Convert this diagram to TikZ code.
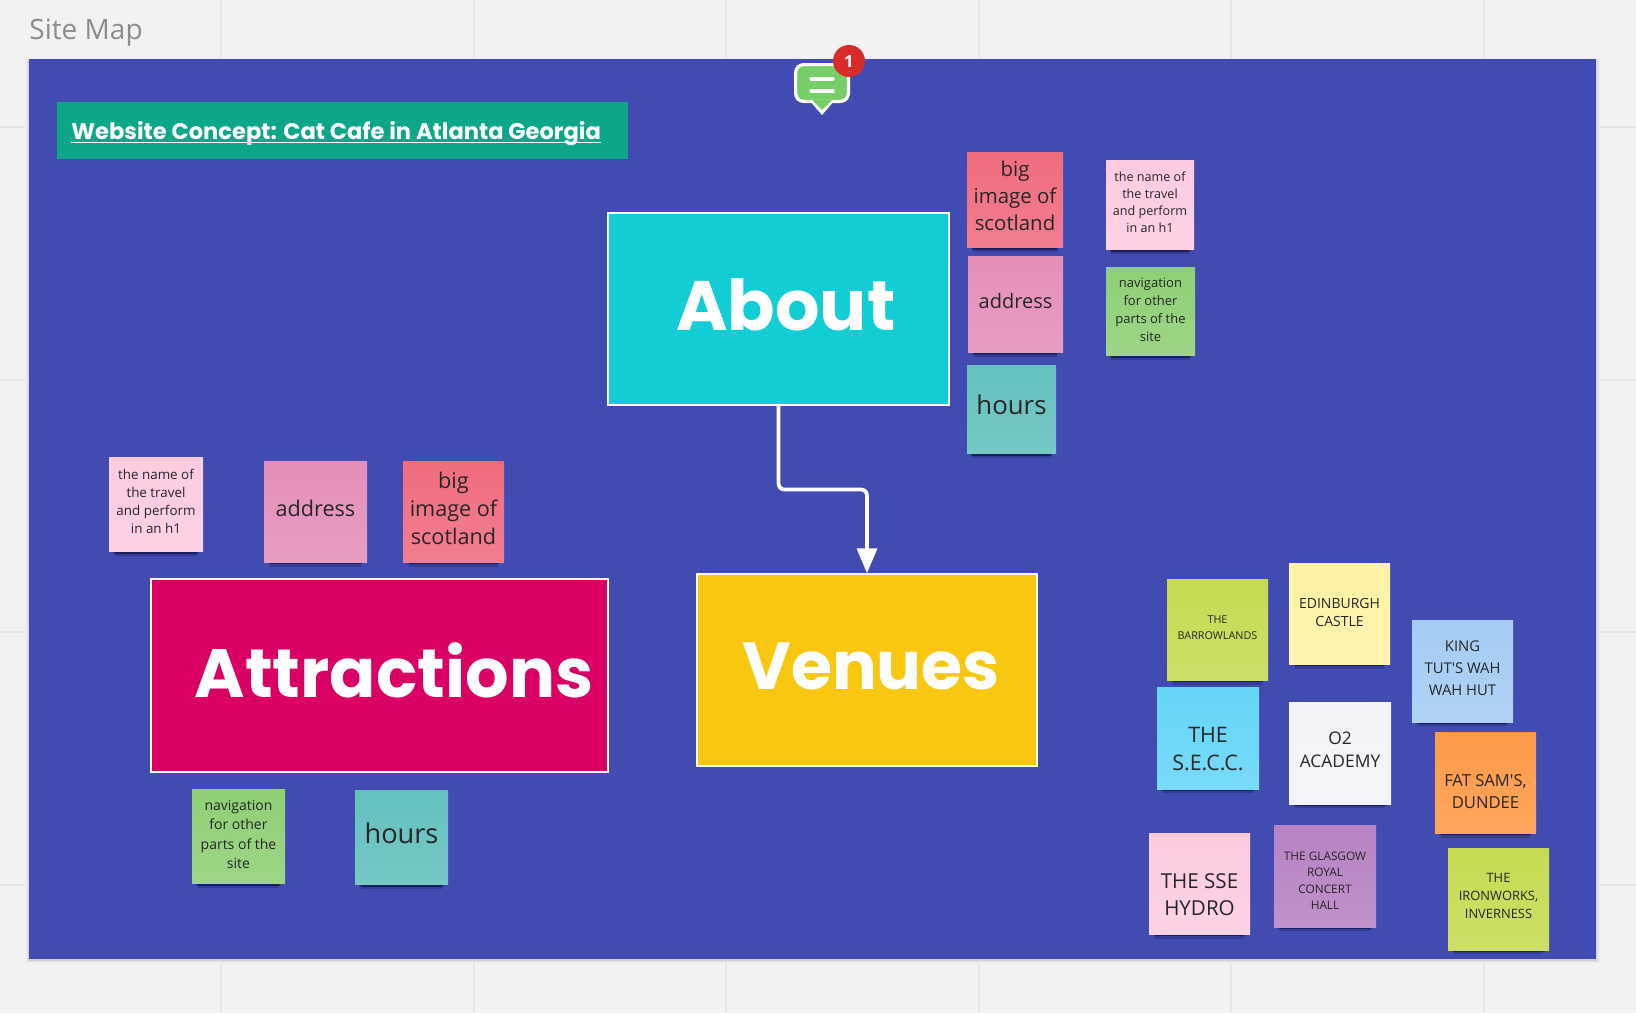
\documentclass[tikz,border=0pt]{standalone}
\usepackage{fontspec}
\usepackage{tikz}
\usetikzlibrary{arrows,shadows}
\setmainfont{Open Sans}
\newfontfamily\headfont{Poppins}
\definecolor{boardblue}{HTML}{414BB2}
\definecolor{pagegray}{HTML}{F2F2F2}
\definecolor{gridgray}{HTML}{E6E6E6}
\definecolor{titlegreen}{HTML}{0CA789}
\definecolor{aboutcyan}{HTML}{12CDD4}
\definecolor{attrred}{HTML}{DA0063}
\definecolor{venueyellow}{HTML}{FAC710}
\definecolor{notegreen}{HTML}{75CE68}
\definecolor{badgered}{HTML}{DB2A2A}
\definecolor{stickyred}{HTML}{F06C80}
\definecolor{stickymauve}{HTML}{E58FBA}
\definecolor{stickyteal}{HTML}{63C1BE}
\definecolor{stickypink}{HTML}{FDCBE0}
\definecolor{stickygreen}{HTML}{8FD076}
\definecolor{stickylime}{HTML}{C6DB52}
\definecolor{stickycream}{HTML}{FEF3A5}
\definecolor{stickysky}{HTML}{A5CCF3}
\definecolor{stickycyan}{HTML}{65D5F8}
\definecolor{stickywhite}{HTML}{F3F4F8}
\definecolor{stickyorange}{HTML}{FF9A47}
\definecolor{stickypurple}{HTML}{B882C4}
\tikzset{
	gridline/.style = {gridgray, line width=1pt},
	mainbox/.style = {draw=white, line width=1pt, inner sep=0pt},
	mainlabel/.style = {text=white, inner sep=0pt, font=\headfont\bfseries\fontsize{#1}{40}\selectfont},
	softlayer/.style 2 args = {drop shadow={shadow xshift=0pt, shadow yshift=#1, shadow scale=#2, opacity=0.2, fill=black!85!blue}},
	boardedge/.style 2 args = {drop shadow={shadow xshift=0pt, shadow yshift=-0.5pt, shadow scale=#1, opacity=1, fill=black!#2}},
	sticky/.style = {inner sep=0pt, minimum width=50.5pt, minimum height=50.5pt,
		softlayer={-6pt}{0.88}, softlayer={-5pt}{0.87}, softlayer={-4pt}{0.9}, softlayer={-3.5pt}{0.92},
		top color=#1, bottom color=#1!88!white},
	stickytext/.style = {align=center, inner sep=0pt, text=black!85},
	fs/.style 2 args = {font=\fontsize{#1}{#2}\selectfont},
}
\begin{document}
\begin{tikzpicture}[x=0.5pt, y=-0.5pt]
	\useasboundingbox (0,0) rectangle (1636,1013);
	\fill [pagegray] (0,0) rectangle (1636,1013);
	% grid of the page
	\foreach \gx in {221,474,726,979,1231,1484}
		\draw [gridline] (\gx,0) -- (\gx,1013);
	\foreach \gy in {127,380,632,885}
		\draw [gridline] (0,\gy) -- (1636,\gy);
	\node [text=black!45, anchor=west, fs={14}{16}, inner sep=0pt] (pagetitle) at (29,33) {Site Map};
	\node [fill=boardblue, inner sep=0pt, minimum width=783.5pt, minimum height=450pt,
		boardedge={1.005}{7}, boardedge={1.003}{11}, boardedge={1.001}{18}] (board) at (812.75,509.25) {};
	\node [fill=titlegreen, inner sep=0pt, minimum width=285.5pt, minimum height=28.5pt] (banner) at (342,130.5) {};
	\node [text=white, anchor=base west, inner sep=0pt, font=\headfont\bfseries\fontsize{11.3}{14}\selectfont] (bannertext) at (71,139) {Website Concept: Cat Cafe in Atlanta Georgia};
	\draw [white, line width=0.9pt] ([yshift=-1.7pt]bannertext.base west) -- ([yshift=-1.7pt]bannertext.base east);

	% main pages
	\node [mainbox, fill=aboutcyan, minimum width=170.5pt, minimum height=96pt,
		label={[mainlabel=35, xshift=3.65pt, yshift=2.3pt]center:About}] (about) at (778.5,309) {};
	\node [mainbox, fill=attrred, minimum width=228.5pt, minimum height=96.5pt,
		label={[mainlabel=34.2, xshift=7.3pt, yshift=2.6pt]center:Attractions}] (attractions) at (379.5,675.5) {};
	\node [mainbox, fill=venueyellow, minimum width=170pt, minimum height=96pt,
		label={[mainlabel=33.3, xshift=2.1pt, yshift=1.8pt]center:Venues}] (venues) at (867,670) {};
	\coordinate (turn) at (867,489.5);
	\draw [white, line width=1.9pt, rounded corners=3pt, -triangle 45] (about.south) |- (turn) -- (venues.north);

	% notes next to about
	\node [sticky=stickyred, minimum width=48pt, minimum height=47.5pt,
		label={[stickytext, fs={10.2}{13.4}, yshift=1.8pt]center:{big\\image of\\scotland}}] (aboutimage) at (1015,199.5) {};
	\node [sticky=stickymauve, minimum width=47.5pt, minimum height=48pt,
		label={[stickytext, fs={10}{13}, yshift=1.6pt]center:address}] (aboutaddress) at (1015.5,304) {};
	\node [sticky=stickyteal, minimum width=44.5pt, minimum height=44pt,
		label={[stickytext, fs={12.9}{15}, yshift=2.1pt]center:hours}] (abouthours) at (1011.5,409) {};
	\node [sticky=stickypink, minimum width=44pt, minimum height=44.5pt,
		label={[stickytext, fs={6.3}{8.45}, yshift=1.3pt]center:{the name of\\the travel\\and perform\\in an h1}}] (aboutname) at (1150,204.5) {};
	\node [sticky=stickygreen, minimum width=44.5pt, minimum height=44pt,
		label={[stickytext, fs={6.5}{9}, yshift=0.8pt]center:{navigation\\for other\\parts of the\\site}}] (aboutnav) at (1150.5,311) {};

	% notes next to attractions
	\node [sticky=stickypink, minimum width=47pt, minimum height=47pt,
		label={[stickytext, fs={6.7}{9}, yshift=1.5pt]center:{the name of\\the travel\\and perform\\in an h1}}] (attrname) at (156,504) {};
	\node [sticky=stickymauve, minimum width=51.5pt,
		label={[stickytext, fs={10.8}{14}, yshift=1.6pt]center:address}] (attraddress) at (315.5,511.5) {};
	\node [sticky=stickyred,
		label={[stickytext, fs={10.8}{14}, yshift=1.6pt]center:{big\\image of\\scotland}}] (attrimage) at (453.5,511.5) {};
	\node [sticky=stickygreen, minimum width=46.5pt, minimum height=47pt,
		label={[stickytext, fs={7}{9.7}, yshift=0.8pt]center:{navigation\\for other\\parts of the\\site}}] (attrnav) at (238.5,836) {};
	\node [sticky=stickyteal, minimum width=46.5pt, minimum height=47pt,
		label={[stickytext, fs={13.6}{16}, yshift=2.1pt]center:hours}] (attrhours) at (401.5,837) {};

	% notes next to venues
	\node [sticky=stickylime,
		label={[stickytext, fs={5.4}{7.7}, yshift=1pt]center:{THE\\BARROWLANDS}}] (barrowlands) at (1217.5,629.5) {};
	\node [sticky=stickycream,
		label={[stickytext, fs={7}{9.4}, yshift=0.5pt]center:{EDINBURGH\\CASTLE}}] (edinburgh) at (1339.5,613.5) {};
	\node [sticky=stickysky, minimum height=51pt,
		label={[stickytext, fs={7.4}{11}, yshift=1.6pt]center:{KING\\TUT\textquotesingle S WAH\\WAH HUT}}] (kingtuts) at (1462.5,671) {};
	\node [sticky=stickycyan, minimum width=51pt, minimum height=51pt,
		label={[stickytext, fs={10.7}{13.8}, yshift=-5.5pt]center:{THE\\S.E.C.C.}}] (secc) at (1208,738) {};
	\node [sticky=stickywhite, minimum width=51pt, minimum height=51pt,
		label={[stickytext, fs={8.7}{11.7}, yshift=1.6pt]center:{O2\\ACADEMY}}] (academy) at (1340,753) {};
	\node [sticky=stickyorange,
		label={[stickytext, fs={8.3}{11}, yshift=-4.5pt]center:{FAT SAM\textquotesingle S,\\DUNDEE}}] (fatsams) at (1485.5,782.5) {};
	\node [sticky=stickypink,
		label={[stickytext, fs={10.3}{13.8}, yshift=-5.5pt]center:{THE SSE\\HYDRO}}] (hydro) at (1199.5,883.5) {};
	\node [sticky=stickypurple, minimum width=51pt, minimum height=51pt,
		label={[stickytext, fs={5.9}{8.2}, yshift=-2.3pt]center:{THE GLASGOW\\ROYAL\\CONCERT\\HALL}}] (glasgow) at (1325,876) {};
	\node [sticky=stickylime, minimum height=51pt,
		label={[stickytext, fs={6.45}{9}, yshift=1.5pt]center:{THE\\IRONWORKS,\\INVERNESS}}] (ironworks) at (1498.5,899) {};

	% comment marker
	\fill [white] (809,100) -- (822,115) -- (835,100) -- cycle;
	\node [fill=notegreen, draw=white, line width=1.6pt, rounded corners=4pt, inner sep=0pt, minimum width=26.4pt, minimum height=18.4pt] (comment) at (822,83) {};
	\fill [notegreen] (812,100) -- (822,110) -- (832,100) -- cycle;
	\draw [white, line width=1.6pt, line cap=round] (811,79) -- (833,79);
	\draw [white, line width=1.6pt, line cap=round] (811,91) -- (833,91);
	\node [circle, fill=badgered, text=white, inner sep=0pt, minimum size=16pt, font=\bfseries\fontsize{8.4}{9}\selectfont] (badge) at (849,61) {1};
\end{tikzpicture}
\end{document}
